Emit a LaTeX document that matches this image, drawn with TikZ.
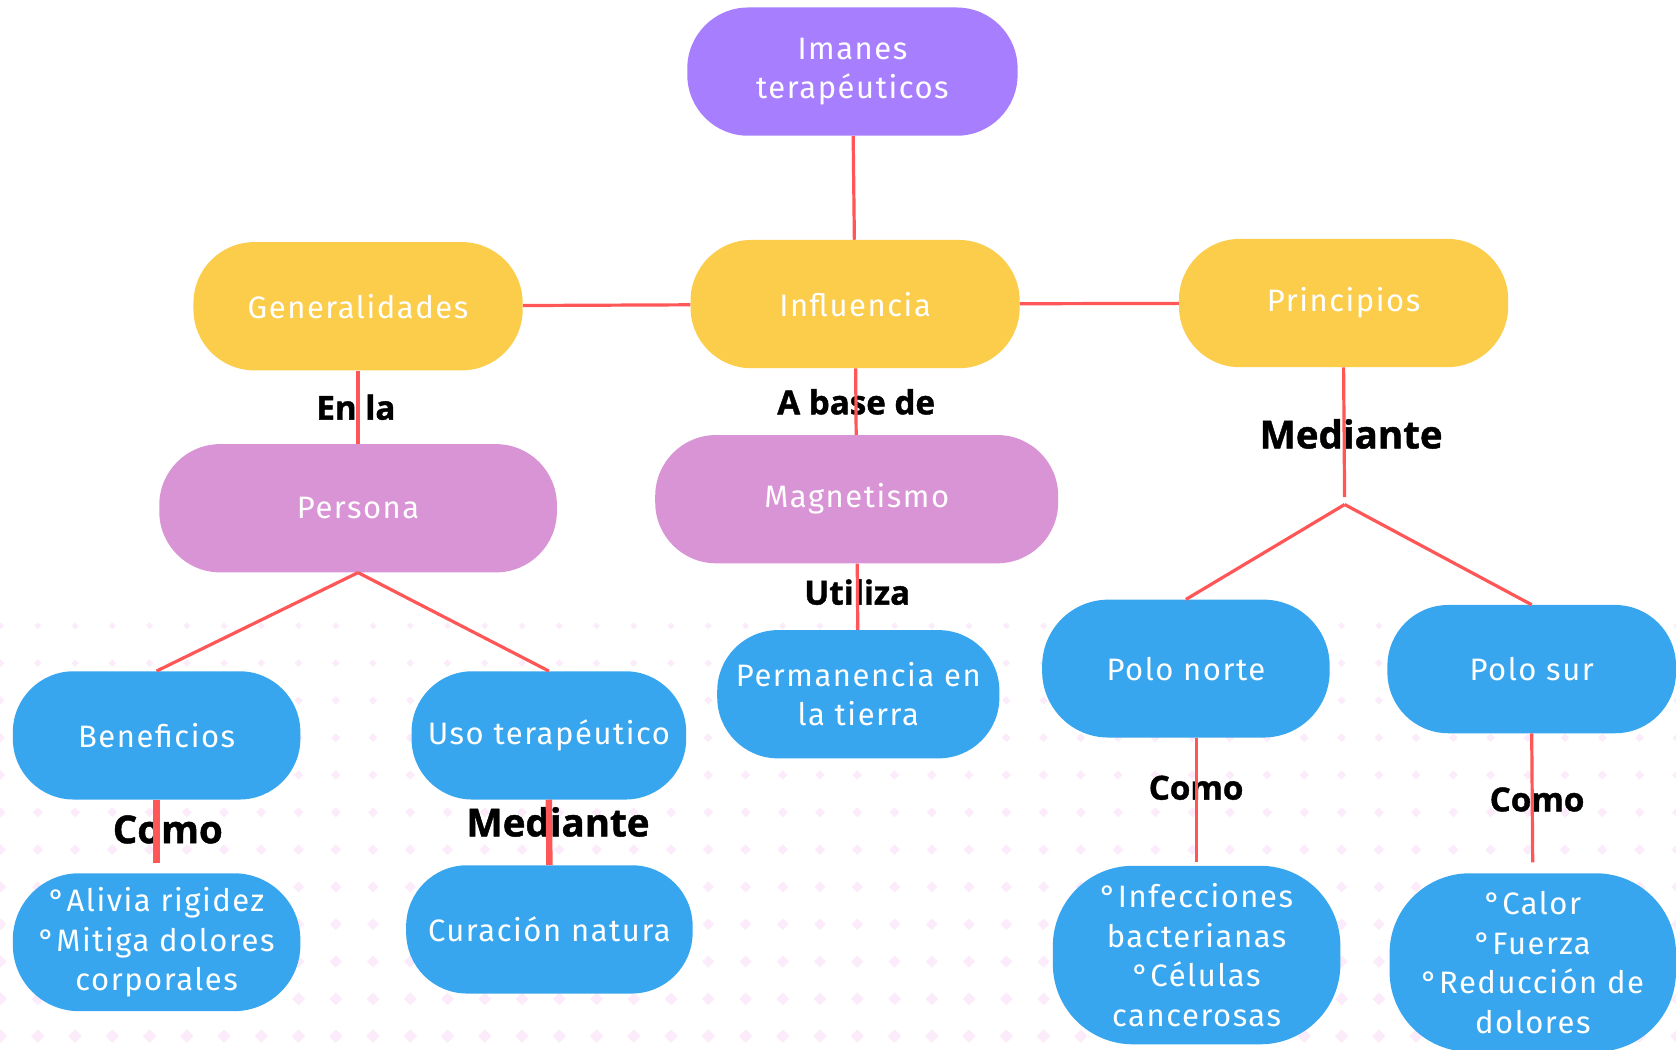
\documentclass[tikz,border=0pt]{standalone}
\usepackage{fontspec}
\setmainfont{Fira Sans}[LetterSpace=5]
\newfontfamily\linkfont{Open Sans}[FakeBold=1.2]
\definecolor{lila}{HTML}{A77FFE}
\definecolor{sol}{HTML}{FBCD4B}
\definecolor{malva}{HTML}{D994D6}
\definecolor{cielo}{HTML}{38A6EE}
\definecolor{enlace}{HTML}{FF5757}
\definecolor{rombo}{HTML}{FCEBFA}
\tikzset{x=1pt,y=-1pt,
    concepto/.style={rounded corners=57pt,text=white,align=center,
        minimum width=269pt,minimum height=120pt,inner sep=0pt,
        font=\fontsize{29}{37}\selectfont},
    raiz/.style={concepto,fill=lila,minimum width=309pt},
    rama/.style={concepto,fill=sol,minimum width=308pt},
    tema/.style={concepto,fill=malva},
    hoja/.style={concepto,fill=cielo},
    enlace/.style={font=\linkfont\bfseries\fontsize{31}{31}\selectfont,inner sep=0pt},
    enlacegr/.style={enlace,font=\linkfont\bfseries\fontsize{36}{36}\selectfont},
    linea/.style={draw=enlace,line width=3pt},
    lineagr/.style={draw=enlace,line width=6pt},
    }
\begin{document}
\begin{tikzpicture}
\clip (0,0) rectangle (1568,982);
\fill[white] (0,0) rectangle (1568,982);
% fondo de rombos
\foreach \f in {0,...,11}{
  \pgfmathsetmacro{\yy}{585.5+34.9*\f}
  \pgfmathsetmacro{\rr}{3.2+0.28*\f}
  \foreach \c in {0,...,45}{
    \fill[rombo] ({0.5+34.85*\c},\yy) ++(-\rr,0) -- ++(\rr,-\rr) -- ++(\rr,\rr) -- ++(-\rr,\rr) -- cycle;
  }
}

\node[raiz] (imanes) at (797.5,67) {Imanes\\terapéuticos};
\node[rama] (general) at (335,286.5) {Generalidades};
\node[rama] (influ) at (800,284.5) {Influencia};
\node[rama] (princ) at (1257,283.5) {Principios};
\node[tema,minimum width=372pt] (persona) at (335,475.5) {Persona};
\node[tema,minimum width=377pt] (magnet) at (801.5,467) {Magnetismo};
\node[hoja] (benef) at (146.5,688) {Beneficios};
\node[hoja,minimum width=257pt] (uso) at (513.5,688) {Uso terapéutico};
\node[hoja,minimum width=264pt] (perma) at (803,649.5) {Permanencia en\\la tierra};
\node[hoja,minimum height=129pt,rounded corners=62pt] (norte) at (1109.5,625.5) {Polo norte};
\node[hoja,minimum width=270pt] (sur) at (1433,626) {Polo sur};
\node[hoja,minimum height=129pt,rounded corners=62pt] (alivia) at (146.5,881.5) {°Alivia rigidez\\°Mitiga dolores\\corporales};
\node[hoja,minimum width=268pt] (cura) at (514,869.5) {Curación natura};
\node[hoja,minimum height=167pt,rounded corners=75pt] (infec) at (1119.5,893.5) {°Infecciones\\bacterianas\\°Células\\cancerosas};
\node[hoja,minimum width=268pt,minimum height=167pt,rounded corners=75pt] (calor) at (1434,900.5) {°Calor\\°Fuerza\\°Reducción de\\dolores};

\node[enlace] (enla) at (333,381) {En la};
\node[enlace] (abase) at (801,376) {A base de};
\node[enlacegr] (medp) at (1264,406) {Mediante};
\node[enlace] (utiliza) at (802,554) {Utiliza};
\node[enlacegr] (comob) at (157,776) {Como};
\node[enlacegr] (medu) at (522,769) {Mediante};
\node[enlace] (comon) at (1119,737) {Como};
\node[enlace] (comos) at (1438,748) {Como};

\coordinate (bifur) at (1258,472);
\draw[linea] (imanes) -- (influ);
\draw[linea] (general) -- (influ);
\draw[linea] (influ) -- (princ);
\draw[linea] (general) -- (persona);
\draw[linea] (influ) -- (magnet);
\draw[linea] (magnet) -- (perma);
\draw[linea,shorten >=7pt] (princ.south) -- (bifur);
\draw[linea] (bifur) -- (norte.north);
\draw[linea] (bifur) -- (sur.north);
\draw[linea] (persona.south) -- (benef.north);
\draw[linea] (persona.south) -- (uso.north);
\draw[lineagr,shorten >=9pt] (benef.south) -- (alivia.north);
\draw[lineagr] (uso.south) -- (cura.north);
\draw[linea,shorten >=3pt] (infec.north |- norte.south) -- (infec.north);
\draw[linea,shorten >=10pt] (sur.south) -- (calor.north);
\end{tikzpicture}
\end{document}
